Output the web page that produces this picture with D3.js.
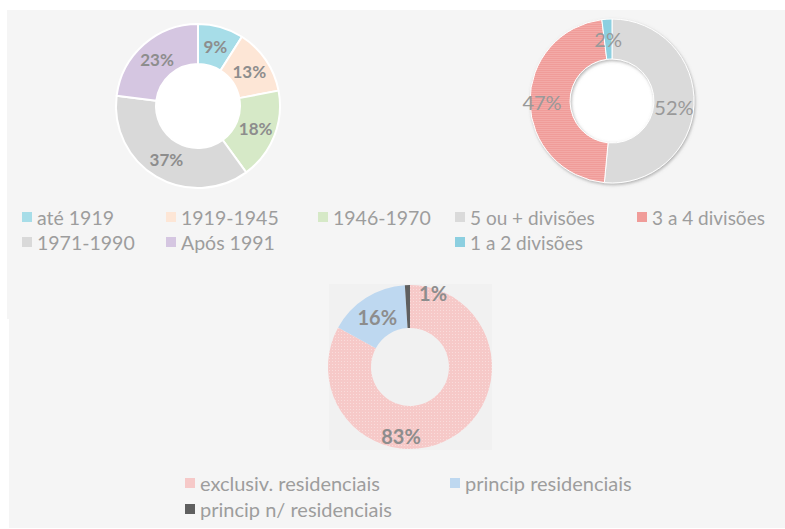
<!DOCTYPE html>
<html>
<head>
<meta charset="utf-8">
<script src="https://cdn.jsdelivr.net/npm/d3@7"></script>
<style>
  html, body { margin: 0; padding: 0; background: #ffffff; }
  svg { display: block; }
  text { font-family: Lato, "Open Sans", sans-serif; }
</style>
</head>
<body>
<svg id="chart" width="785" height="529"></svg>
<script>
// Construction period of the buildings
const periodLabels = ["até 1919", "1919-1945", "1946-1970", "1971-1990", "Após 1991"];
const periodValues = [9, 13, 18, 37, 23];
const periodColors = ["#a7dde8", "#fde6d6", "#d6e9c7", "#d9d9d9", "#d5c6e1"];

// Number of rooms per dwelling
const roomLabels = ["5 ou + divisões", "3 a 4 divisões", "1 a 2 divisões"];
const roomValues = [52, 47, 2];
const roomColors = ["#dadada", "#f09c99", "#8ccfe0"];

// Use of the buildings
const useLabels = ["exclusiv. residenciais", "princip residenciais", "princip n/ residenciais"];
const useValues = [83, 16, 1];
const useColors = ["#f6c9c8", "#bed8f0", "#5f5f5f"];

const svg = d3.select("#chart");
const defs = svg.append("defs");

// panel backgrounds
svg.append("rect").attr("x", 7).attr("y", 10).attr("width", 778).attr("height", 309).attr("fill", "#f5f5f5");
svg.append("rect").attr("x", 9).attr("y", 318).attr("width", 776).attr("height", 210).attr("fill", "#f5f5f5");
svg.append("rect").attr("x", 329).attr("y", 284).attr("width", 163).attr("height", 166).attr("fill", "#f1f1f1");

// textures
const stripes = defs.append("pattern").attr("id", "stripes").attr("patternUnits", "userSpaceOnUse")
  .attr("width", 4).attr("height", 2);
stripes.append("rect").attr("width", 4).attr("height", 2).attr("fill", roomColors[1]);
stripes.append("rect").attr("width", 4).attr("height", 1).attr("fill", "#f3aaa7");

const dots = defs.append("pattern").attr("id", "dots").attr("patternUnits", "userSpaceOnUse")
  .attr("width", 3).attr("height", 3);
dots.append("rect").attr("width", 3).attr("height", 3).attr("fill", useColors[0]);
dots.append("rect").attr("width", 1).attr("height", 1).attr("fill", "#f9dcdb");

const shadow = defs.append("filter").attr("id", "shadow").attr("x", "-20%").attr("y", "-20%")
  .attr("width", "140%").attr("height", "140%");
shadow.append("feDropShadow").attr("dx", 1).attr("dy", 1.5).attr("stdDeviation", 1.6)
  .attr("flood-color", "#7a7a7a").attr("flood-opacity", 0.55);

const pie = d3.pie().sort(null).value(d => d);

function donut(cfg) {
  const g = svg.append("g").attr("transform", `translate(${cfg.cx},${cfg.cy})`);
  const arcs = pie(cfg.values);
  const arc = d3.arc().innerRadius(cfg.inner).outerRadius(cfg.outer);
  if (cfg.hole) {
    g.append("circle").attr("r", cfg.inner).attr("fill", cfg.hole);
  }
  const ring = g.append("g").attr("filter", cfg.filter || null);
  ring.selectAll("path").data(arcs).join("path")
    .attr("d", arc)
    .attr("fill", (d, i) => cfg.fills ? cfg.fills[i] : cfg.colors[i])
    .attr("stroke", "#ffffff")
    .attr("stroke-width", cfg.strokeWidth)
    .attr("stroke-linejoin", "round");
  const labelArc = d3.arc().innerRadius(cfg.labelR).outerRadius(cfg.labelR);
  g.selectAll("text.lbl").data(arcs).join("text")
    .attr("class", "lbl")
    .attr("transform", (d, i) => {
      const [x, y] = labelArc.centroid(d);
      const o = (cfg.nudge && cfg.nudge[i]) || [0, 0];
      return `translate(${x + o[0]},${y + o[1]})`;
    })
    .attr("text-anchor", "middle")
    .attr("dominant-baseline", "central")
    .attr("font-size", cfg.labelSize)
    .attr("font-weight", cfg.labelWeight)
    .attr("fill", cfg.labelColor)
    .text(d => d.data + "%");
}

function legend(items, colors, rows, size) {
  items.forEach((name, i) => {
    const [x, y] = rows[i];
    svg.append("rect").attr("x", x).attr("y", y - 5).attr("width", 10).attr("height", 10)
      .attr("fill", colors[i]);
    svg.append("text").attr("x", x + 15).attr("y", y).attr("dominant-baseline", "central")
      .attr("font-size", size).attr("fill", "#9d9d9d").text(name);
  });
}

donut({
  cx: 198, cy: 106, inner: 42, outer: 82, values: periodValues, colors: periodColors,
  hole: "#ffffff", strokeWidth: 2, labelR: 62, labelSize: 17, labelWeight: 700, labelColor: "#8d8d8d"
});

donut({
  cx: 612, cy: 101, inner: 42, outer: 82, values: roomValues, colors: roomColors,
  fills: [roomColors[0], "url(#stripes)", roomColors[2]], filter: "url(#shadow)", hole: "#ffffff",
  strokeWidth: 1, labelR: 62, labelSize: 20, labelWeight: 400, labelColor: "#999999",
  nudge: [[0, 3], [-8, 0], [0, 0]]
});

donut({
  cx: 410, cy: 367, inner: 39, outer: 82, values: useValues, colors: useColors,
  fills: ["url(#dots)", useColors[1], useColors[2]],
  strokeWidth: 0, labelR: 61, labelSize: 20, labelWeight: 700, labelColor: "#8d8d8d",
  nudge: [[-40, 16], [0, 2], [25, -13]]
});

legend(periodLabels, periodColors, [[22, 217], [166, 217], [318, 217], [22, 242], [166, 242]], 19.5);
legend(roomLabels, roomColors, [[455, 217], [637, 217], [455, 242]], 19);
legend(useLabels, useColors, [[185, 483], [450, 483], [185, 509]], 20);
</script>
</body>
</html>
